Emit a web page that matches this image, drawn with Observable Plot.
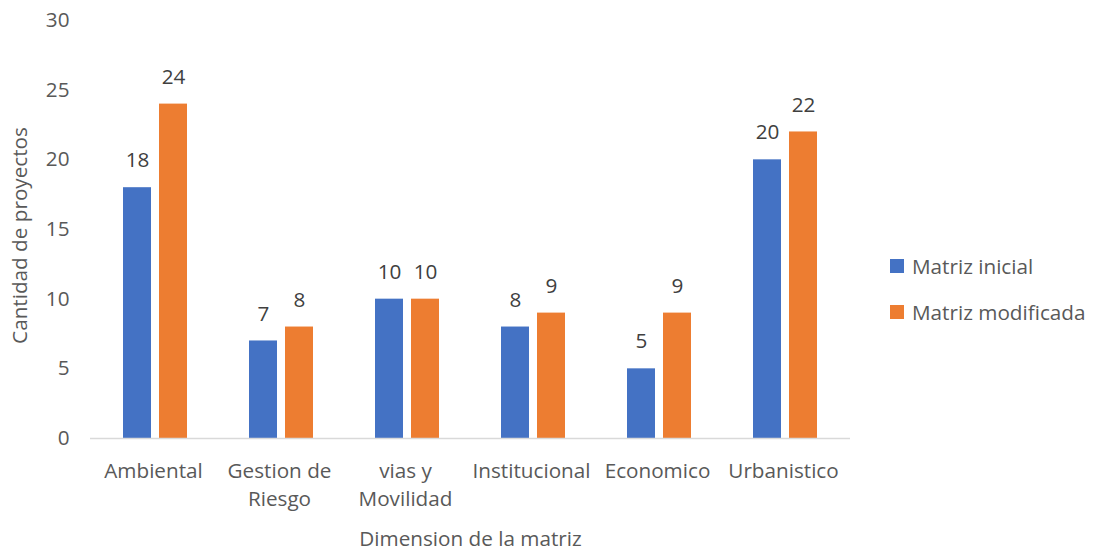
<!DOCTYPE html>
<html>
<head>
<meta charset="utf-8">
<script src="https://cdn.jsdelivr.net/npm/d3@7"></script>
<script src="https://cdn.jsdelivr.net/npm/@observablehq/plot@0.6"></script>
<style>
  html, body { margin: 0; padding: 0; background: #fff; }
  #wrap { position: relative; width: 1094px; height: 554px; }
  #legend { position: absolute; left: 890px; top: 243px; font-family: "Open Sans", sans-serif; font-size: 20.7px; color: #595959; }
  #legend div { display: flex; align-items: center; height: 46px; }
  #legend span.sw { display: inline-block; width: 14px; height: 14px; margin-right: 8px; }
</style>
</head>
<body>
<div id="wrap"></div>
<script>
const categories = ["Ambiental", "Gestion de Riesgo", "vias y Movilidad", "Institucional", "Economico", "Urbanistico"];
const tickLabels = ["Ambiental", "Gestion de\nRiesgo", "vias y\nMovilidad", "Institucional", "Economico", "Urbanistico"];
const series = ["Matriz inicial", "Matriz modificada"];
const inicial = [18, 7, 10, 8, 5, 20];
const modificada = [24, 8, 10, 9, 9, 22];
const yTicks = [0, 5, 10, 15, 20, 25, 30];
const colors = ["#4472C4", "#ED7D31"];
const xTitle = "Dimension de la matriz";
const yTitle = "Cantidad de proyectos";

const dataIni = categories.map((c, i) => ({cat: c, serie: series[0], value: inicial[i]}));
const dataMod = categories.map((c, i) => ({cat: c, serie: series[1], value: modificada[i]}));
const labelMap = new Map(categories.map((c, i) => [c, tickLabels[i]]));

const fs = 20.7;
const chart = Plot.plot({
  width: 1094,
  height: 554,
  marginLeft: 90,
  marginRight: 244,
  marginTop: 20,
  marginBottom: 116,
  style: {fontFamily: "'Open Sans', sans-serif", fontSize: fs + "px", color: "#595959", background: "#fff"},
  x: {type: "band", domain: categories, paddingInner: 0.779, paddingOuter: 0.3895, align: 0.5},
  y: {domain: [0, 30]},
  color: {domain: series, range: colors},
  marks: [
    Plot.axisY({ticks: yTicks, tickSize: 0, tickPadding: 21, label: null, fontSize: fs}),
    Plot.axisX({tickSize: 0, tickPadding: 20, label: null, tickFormat: d => labelMap.get(d), lineHeight: 1.35, fontSize: fs, dx: -2}),
    Plot.barY(dataIni, {x: "cat", y: "value", fill: "serie", dx: -18}),
    Plot.barY(dataMod, {x: "cat", y: "value", fill: "serie", dx: 18}),
    Plot.ruleY([0], {stroke: "#D9D9D9", strokeWidth: 1.5}),
    Plot.text(dataIni, {x: "cat", y: "value", text: d => String(d.value), dx: -18, dy: -27, fill: "#404040", fontSize: fs}),
    Plot.text(dataMod, {x: "cat", y: "value", text: d => String(d.value), dx: 18, dy: -27, fill: "#404040", fontSize: fs}),
    Plot.text([xTitle], {frameAnchor: "bottom", lineAnchor: "middle", dy: 101, text: d => d, fill: "#595959", fontSize: fs}),
    Plot.text([yTitle], {frameAnchor: "left", textAnchor: "middle", lineAnchor: "middle", rotate: -90, dx: -70, dy: 6, text: d => d, fill: "#595959", fontSize: fs})
  ]
});
const wrap = document.getElementById("wrap");
wrap.appendChild(chart);

const legend = document.createElement("div");
legend.id = "legend";
series.forEach((s, i) => {
  const row = document.createElement("div");
  const sw = document.createElement("span");
  sw.className = "sw";
  sw.style.background = colors[i];
  row.appendChild(sw);
  row.appendChild(document.createTextNode(s));
  legend.appendChild(row);
});
wrap.appendChild(legend);
</script>
</body>
</html>
